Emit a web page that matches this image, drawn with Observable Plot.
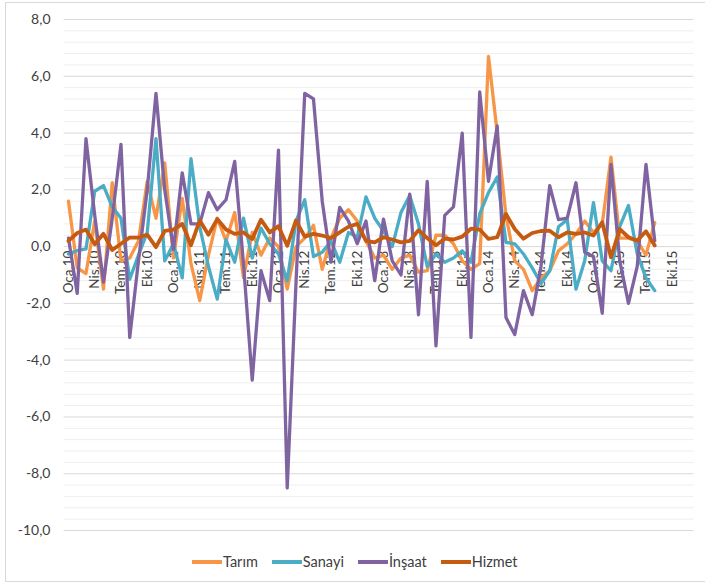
<!DOCTYPE html>
<html>
<head>
<meta charset="utf-8">
<script src="https://cdn.jsdelivr.net/npm/d3@7"></script>
<script src="https://cdn.jsdelivr.net/npm/@observablehq/plot@0.6"></script>
<style>
  html, body { margin: 0; padding: 0; background: #fff; overflow: hidden; }
  body { width: 705px; height: 585px; position: relative; font-family: Lato, "Open Sans", sans-serif; }
  #frame { position: absolute; left: 5px; top: 2px; width: 705px; height: 580px; border: 1px solid #d9d9d9; box-sizing: border-box; pointer-events: none; }
  #chart { position: absolute; left: 0; top: 0; }
  #legend { position: absolute; left: 192px; top: 553px; display: flex; align-items: center; font-size: 14.5px; color: #404040; }
  .item { display: flex; align-items: center; margin-right: 14px; }
  .sw { width: 30px; height: 4px; margin-right: 1px; }
</style>
</head>
<body>
<div id="chart"></div>
<div id="legend"></div>
<div id="frame"></div>
<script>
const months = ["Oca","Şub","Mar","Nis","May","Haz","Tem","Ağu","Eyl","Eki","Kas","Ara"];
const years = ["10","11","12","13","14","15"];
const categories = years.flatMap(y => months.map(m => `${m}.${y}`));

const tickLabels = ["Oca.10","Nis.10","Tem.10","Eki.10","Oca.11","Nis.11","Tem.11","Eki.11",
  "Oca.12","Nis.12","Tem.12","Eki.12","Oca.13","Nis.13","Tem.13","Eki.13",
  "Oca.14","Nis.14","Tem.14","Eki.14","Oca.15","Nis.15","Tem.15","Eki.15"];

const seriesNames = ["Tarım","Sanayi","İnşaat","Hizmet"];
const seriesColors = ["#F79646","#4BACC6","#8064A2","#C55A11"];

const tarim = [1.6,-0.75,-0.95,0.9,-1.5,2.25,-0.5,-0.4,0.2,2.3,1.0,2.95,
  -0.4,1.7,-0.6,-1.9,-0.3,1.0,0.2,1.2,-1.1,0.5,-0.3,0.3,
  0.0,-1.5,0.0,0.3,0.75,-0.8,0.3,1.0,1.3,0.9,0.2,-0.4,
  -0.3,-0.8,-0.4,-0.3,-0.9,-0.85,0.4,0.4,0.1,-0.5,-0.8,-0.6,
  6.7,4.0,1.1,-0.5,-0.8,-1.55,-1.1,-0.85,-0.15,0.1,0.45,0.9,
  0.5,0.8,3.15,0.3,0.3,0.2,-0.3,0.85];

const sanayi = [-0.26,-0.14,-0.08,1.95,2.15,1.4,1.0,-1.15,-0.3,0.5,3.8,-0.5,
  0.1,-1.1,3.1,0.7,-0.7,-1.85,0.25,-0.55,1.0,-0.4,0.65,0.1,
  -0.26,-1.2,0.9,1.65,-0.35,-0.2,0.2,-0.55,0.5,0.33,1.75,1.0,
  0.55,0.0,1.2,1.8,0.8,-0.7,-0.26,-0.55,-0.4,-0.15,-0.55,1.15,
  1.9,2.45,0.15,0.1,-0.26,-0.75,-1.3,-0.85,0.7,0.95,-1.5,-0.5,
  1.55,-0.5,-0.85,0.7,1.45,-0.26,-1.1,-1.55];

const insaat = [0.3,-1.65,3.8,1.1,-1.25,1.0,3.6,-3.2,-0.5,2.0,5.4,2.0,
  -0.1,2.6,0.8,0.8,1.9,1.3,1.65,3.0,-0.6,-4.7,-0.85,-1.9,
  3.4,-8.5,-1.3,5.4,5.2,1.6,-0.55,1.38,0.9,0.1,0.9,-1.2,
  0.97,-0.5,-1.0,1.85,-2.4,2.3,-3.5,1.1,1.4,4.0,-3.2,5.45,
  2.3,4.25,-2.5,-3.1,-1.55,-2.4,-0.7,2.15,0.95,1.0,2.25,-0.2,
  -0.35,-2.35,2.9,-0.5,-2.0,-0.7,2.9,0.2];

const hizmet = [0.2,0.48,0.6,0.08,0.45,-0.12,0.1,0.32,0.32,0.42,-0.02,0.55,
  0.6,0.8,0.05,0.92,0.42,0.97,0.6,0.45,0.5,0.27,0.95,0.5,
  0.72,0.03,0.92,0.35,0.45,0.39,0.3,0.5,0.7,0.8,0.2,0.15,
  0.33,0.25,0.15,0.2,0.58,0.3,0.05,0.28,0.25,0.35,0.63,0.6,
  0.27,0.33,1.15,0.62,0.28,0.48,0.55,0.56,0.33,0.5,0.45,0.5,
  0.39,0.86,-0.38,0.62,0.33,0.21,0.54,0.04];

const seriesValues = [tarim, sanayi, insaat, hizmet];
const majorTicks = [-10,-8,-6,-4,-2,0,2,4,6,8];
const minorTicks = d3.range(0, 46).map(k => Math.round((-10 + k * 0.4) * 10) / 10)
  .filter(v => !majorTicks.includes(v));

const table = seriesNames.flatMap((name, s) =>
  seriesValues[s].map((v, i) => ({series: name, cat: categories[i], value: v})));

const fmt = d => d.toFixed(1).replace(".", ",");

const chart = Plot.plot({
  width: 705,
  height: 545,
  marginLeft: 63.6,
  marginRight: 11.4,
  marginTop: 19,
  marginBottom: 15,
  style: {fontFamily: "Lato, 'Open Sans', sans-serif", fontSize: "14px", color: "#404040", background: "transparent"},
  x: {type: "point", domain: categories, padding: 0.5, axis: null},
  y: {domain: [-10, 8], axis: null},
  marks: [
    Plot.ruleY(minorTicks, {stroke: "#eeeeee", strokeWidth: 1}),
    Plot.ruleY(majorTicks, {stroke: "#d9d9d9", strokeWidth: 1}),
    Plot.axisY(majorTicks, {tickSize: 0, tickPadding: 13.6, tickFormat: fmt, fontSize: 14, fill: "#404040", label: null}),
    Plot.text(tickLabels, {x: d => d, y: () => 0, text: d => d, rotate: -90, textAnchor: "end", dy: 4, fontSize: 13.5, fill: "#404040"}),
    ...seriesNames.map((name, s) =>
      Plot.line(table.filter(d => d.series === name), {
        x: "cat", y: "value",
        stroke: seriesColors[s],
        strokeWidth: name === "Hizmet" ? 3.8 : 3.3,
        strokeLinejoin: "round", strokeLinecap: "round"
      }))
  ]
});
document.getElementById("chart").appendChild(chart);

const legend = document.getElementById("legend");
seriesNames.forEach((name, s) => {
  const item = document.createElement("div");
  item.className = "item";
  const sw = document.createElement("div");
  sw.className = "sw";
  sw.style.background = seriesColors[s];
  const tx = document.createElement("span");
  tx.textContent = name;
  item.appendChild(sw);
  item.appendChild(tx);
  legend.appendChild(item);
});
</script>
</body>
</html>
